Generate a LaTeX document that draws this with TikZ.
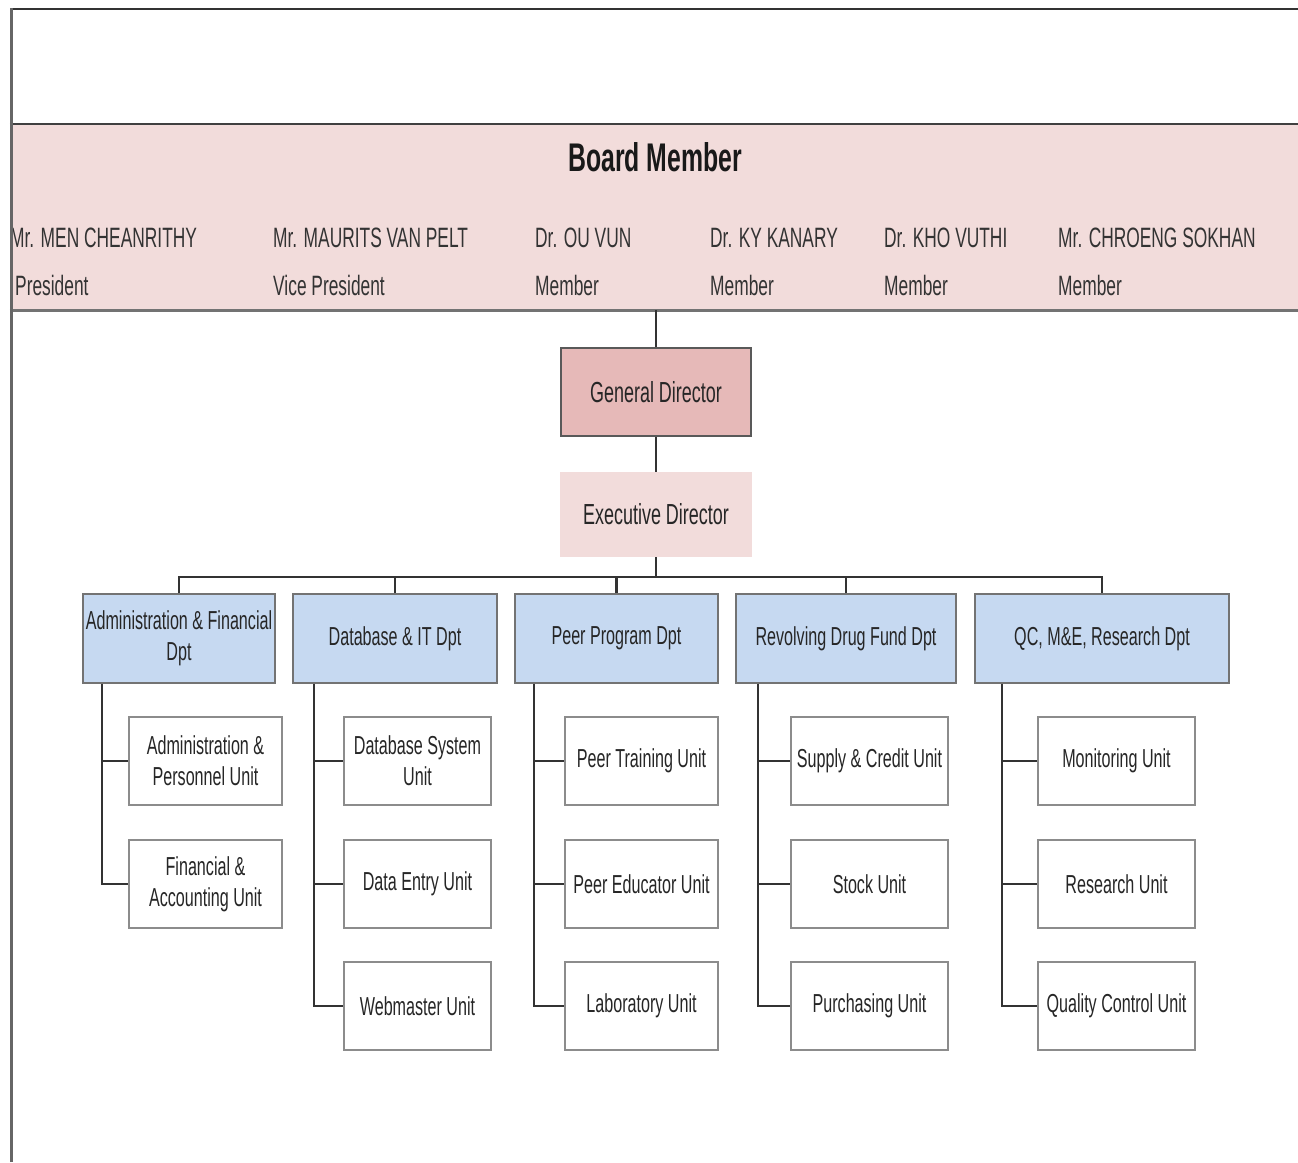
\documentclass[tikz,border=0pt]{standalone}
\usepackage{fontspec}
\setmainfont{Liberation Sans}[FakeStretch=0.62]
\definecolor{bandpink}{HTML}{F2DCDB}
\definecolor{gdpink}{HTML}{E6B9B8}
\definecolor{edpink}{HTML}{F2DCDB}
\definecolor{deptblue}{HTML}{C6D9F1}
\begin{document}
\begin{tikzpicture}[x=1pt,y=-1pt,
  boxtext/.style={font=\fontsize{26}{31}\selectfont, text=black!85, align=center, inner sep=0pt},
  dept/.style={boxtext, draw=black!55, line width=1.6pt, fill=deptblue, minimum height=89pt},
  unitbox/.style={boxtext, draw=black!45, line width=1.8pt, fill=white, minimum height=88pt},
  conn/.style={draw=black!80, line width=2.6pt},
  member/.style={font=\fontsize{28}{28}\selectfont, text=black!80, anchor=base west, inner sep=0pt},
]
\useasboundingbox (0,0) rectangle (1298,1162);
\fill[white] (0,0) rectangle (1298,1162);

% board band
\node[fill=bandpink, minimum width=1288pt, minimum height=186pt, inner sep=0pt] (board) at (654,217) {};
\draw[line width=2pt, black!75] (board.north west) -- (board.north east);
\draw[line width=3pt, black!55] (board.south west) -- (board.south east);
\node[font=\bfseries\fontsize{40}{40}\selectfont, text=black!90, anchor=base, inner sep=0pt] (title) at (655,171) {Board Member};

\node[member] (m1) at (10,247) {Mr. MEN CHEANRITHY};
\node[member] (r1) at (15,295) {President};
\node[member] (m2) at (273,247) {Mr. MAURITS VAN PELT};
\node[member] (r2) at (273,295) {Vice President};
\node[member] (m3) at (535,247) {Dr. OU VUN};
\node[member] (r3) at (535,295) {Member};
\node[member] (m4) at (710,247) {Dr. KY KANARY};
\node[member] (r4) at (710,295) {Member};
\node[member] (m5) at (884,247) {Dr. KHO VUTHI};
\node[member] (r5) at (884,295) {Member};
\node[member] (m6) at (1058,247) {Mr. CHROENG SOKHAN};
\node[member] (r6) at (1058,295) {Member};

% frame
\draw[line width=2pt, black!80] (11,9) -- (1298,9);
\draw[line width=3pt, black!60] (11,1162) -- (11,8);

% directors
\node[boxtext, font=\fontsize{29}{31}\selectfont, draw=black!65, line width=1.6pt, fill=gdpink, minimum width=190pt, minimum height=88pt] (gd) at (656,392) {General Director};
\node[boxtext, font=\fontsize{29}{31}\selectfont, fill=edpink, minimum width=192pt, minimum height=85pt] (ed) at (656,514.5) {Executive Director};

\draw[conn, line width=2pt] (gd.north |- board.south) -- (gd.north);
\draw[conn, line width=2pt] (gd.south) -- (ed.north);

% departments
\node[dept, minimum width=192pt] (d1) at (179,638.5) {Administration \& Financial\\Dpt};
\node[dept, minimum width=204pt] (d2) at (395,638.5) {Database \& IT Dpt};
\node[dept, minimum width=203pt] (d3) at (616.5,638.5) {Peer Program Dpt};
\node[dept, minimum width=220pt] (d4) at (846,638.5) {Revolving Drug Fund Dpt};
\node[dept, minimum width=254pt] (d5) at (1102,638.5) {QC, M\&E, Research Dpt};

\coordinate (bus) at (656,577);
\draw[conn] (ed.south) -- (ed.south |- bus);
\draw[conn] (d1.north) -- (d1.north |- bus) -- (d5.north |- bus) -- (d5.north);
\draw[conn] (d2.north) -- (d2.north |- bus);
\draw[conn] (d3.north) -- (d3.north |- bus);
\draw[conn] (d4.north) -- (d4.north |- bus);

% units
\node[unitbox, minimum width=153pt] (u11) at (205.5,761) {Administration \&\\Personnel Unit};
\node[unitbox, minimum width=153pt] (u12) at (205.5,884) {Financial \&\\Accounting Unit};

\node[unitbox, minimum width=147pt] (u21) at (417.5,761) {Database System\\Unit};
\node[unitbox, minimum width=147pt] (u22) at (417.5,884) {Data Entry Unit};
\node[unitbox, minimum width=147pt] (u23) at (417.5,1006) {Webmaster Unit};

\node[unitbox, minimum width=153pt] (u31) at (641.5,761) {Peer Training Unit};
\node[unitbox, minimum width=153pt] (u32) at (641.5,884) {Peer Educator Unit};
\node[unitbox, minimum width=153pt] (u33) at (641.5,1006) {Laboratory Unit};

\node[unitbox, minimum width=157pt] (u41) at (869.5,761) {Supply \& Credit Unit};
\node[unitbox, minimum width=157pt] (u42) at (869.5,884) {Stock Unit};
\node[unitbox, minimum width=157pt] (u43) at (869.5,1006) {Purchasing Unit};

\node[unitbox, minimum width=157pt] (u51) at (1116.5,761) {Monitoring Unit};
\node[unitbox, minimum width=157pt] (u52) at (1116.5,884) {Research Unit};
\node[unitbox, minimum width=157pt] (u53) at (1116.5,1006) {Quality Control Unit};

% tree connectors
\coordinate (v1) at (102,683);
\coordinate (v2) at (314,683);
\coordinate (v3) at (534,683);
\coordinate (v4) at (758,683);
\coordinate (v5) at (1002,683);

\draw[conn] (v1 |- d1.south) |- (u12.west);
\draw[conn] (v1 |- u11.west) -- (u11.west);

\draw[conn] (v2 |- d2.south) |- (u23.west);
\draw[conn] (v2 |- u21.west) -- (u21.west);
\draw[conn] (v2 |- u22.west) -- (u22.west);

\draw[conn] (v3 |- d3.south) |- (u33.west);
\draw[conn] (v3 |- u31.west) -- (u31.west);
\draw[conn] (v3 |- u32.west) -- (u32.west);

\draw[conn] (v4 |- d4.south) |- (u43.west);
\draw[conn] (v4 |- u41.west) -- (u41.west);
\draw[conn] (v4 |- u42.west) -- (u42.west);

\draw[conn] (v5 |- d5.south) |- (u53.west);
\draw[conn] (v5 |- u51.west) -- (u51.west);
\draw[conn] (v5 |- u52.west) -- (u52.west);
\end{tikzpicture}
\end{document}
